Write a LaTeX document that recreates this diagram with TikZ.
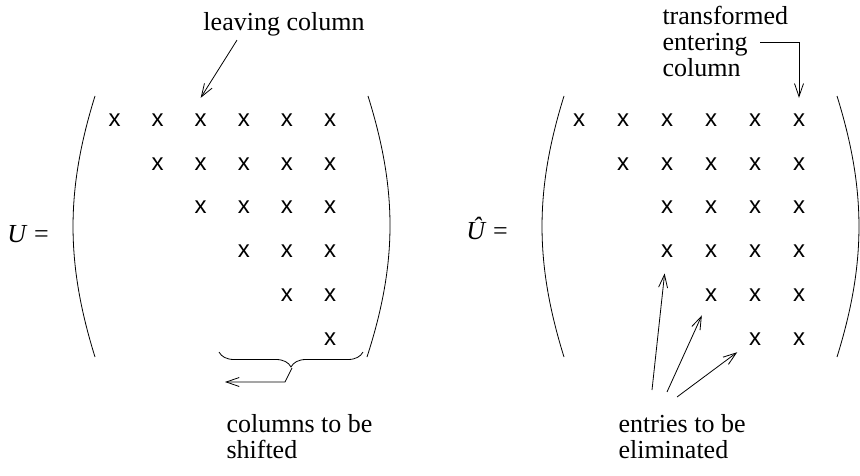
\documentclass[tikz,border=0pt]{standalone}
\usepackage{fontspec}
\setmainfont{Liberation Serif}
\setsansfont{Liberation Sans}
\usetikzlibrary{arrows.meta,positioning,decorations.pathreplacing}

\begin{document}
\begin{tikzpicture}[
  x=1pt, y=-1pt,
  entry/.style={circle, minimum size=44pt, inner sep=0pt, font=\sffamily\fontsize{24}{24}\selectfont},
  lbl/.style={align=left, inner sep=3.3pt, font=\fontsize{26}{26}\selectfont},
  arr/.style={-{Straight Barb[length=13pt,width=9pt]}, line width=0.8pt},
  paren/.style={line width=0.8pt}
]
\useasboundingbox (0,0) rectangle (860,476);

% U: upper triangular
\foreach \r in {1,...,6}
  \foreach \c in {\r,...,6}
    \node[entry] (u\r\c) at ({114.5+43.1*(\c-1)},{120+43.8*(\r-1)}) {x};

% U hat: one subdiagonal from column 3 on
\foreach \r/\s in {1/1,2/2,3/3,4/3,5/4,6/5}
  \foreach \c in {\s,...,6}
    \node[entry] (v\r\c) at ({579+44*(\c-1)},{120+43.8*(\r-1)}) {x};

\node[lbl, anchor=base] (uname) at (28,242) {\textit{U} =};
\node[lbl, anchor=base] (vname) at (487,240) {\textit{\^{U}} =};

% parentheses
\draw[paren] (95,96) .. controls (65.7,190) and (65.7,263) .. (95,357);
\draw[paren] (368,96) .. controls (397.5,190) and (397.5,263) .. (367,357);
\draw[paren] (564,96) .. controls (534.7,190) and (534.7,263) .. (564,357);
\draw[paren] (837,96) .. controls (866.3,190) and (866.3,263) .. (837,357);

\node[lbl, anchor=base] (leaving) at (284,31) {leaving column};
\node[lbl, anchor=north west] (shifted) at (223,411) {columns to be\\shifted};
\node[lbl, anchor=north west] (entering) at (659,3) {transformed\\entering\\column};
\node[lbl, anchor=north west] (elim) at (615,411) {entries to be\\eliminated};

% brace under the shifted columns
\coordinate (bl) at (219,352);
\coordinate (br) at (363,352);
\draw[paren, decorate, decoration={brace, mirror, amplitude=15pt}] (bl) -- (br);

\coordinate (tip) at (292,368);
\coordinate (knee) at (285,382);
\coordinate (shiftend) at (225,382);
\coordinate (entstart) at (760,42);
\coordinate (src1) at (652,390);
\coordinate (src2) at (667,392);
\coordinate (src3) at (677,397);

\draw[arr] ([xshift=-47pt]leaving.south) -- (u13.north);
\draw[arr] (tip) -- (knee) -- (shiftend);
\draw[arr] (entstart) -| (v16);

\draw[arr] (src1) -- (v43);
\draw[arr] (src2) -- (v54);
\draw[arr] (src3) -- (v65);

\end{tikzpicture}
\end{document}
